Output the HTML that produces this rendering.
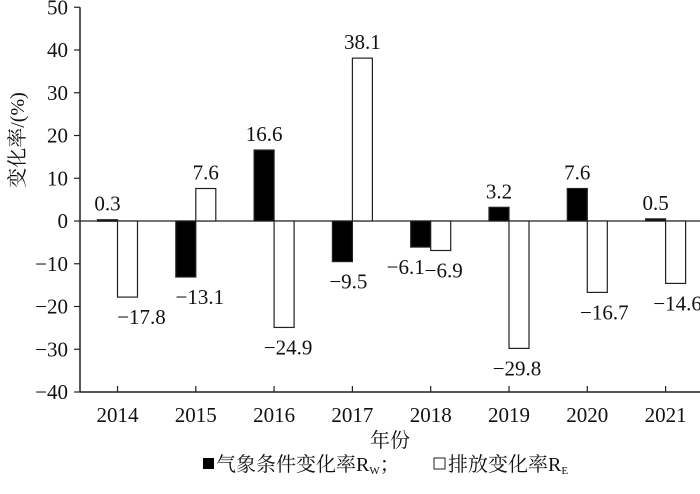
<!DOCTYPE html>
<html><head><meta charset="utf-8"><style>
body{margin:0;background:#fff}
svg text{font-family:"Liberation Serif","Noto Serif CJK SC",serif;fill:#111}
</style></head><body>
<svg width="700" height="489" xmlns="http://www.w3.org/2000/svg">
<g id="plot"></g>
<text x="390" y="447" text-anchor="middle" font-size="20">年份</text>
<text transform="translate(24,140) rotate(-90)" text-anchor="middle" font-size="20">变化率/(%)</text>
<g>
<rect x="203" y="458" width="11" height="11" fill="#000"/>
<text x="216" y="471" font-size="20">气象条件变化率R<tspan font-size="11" dy="3">W</tspan><tspan dy="-3">；</tspan></text>
<rect x="434" y="458" width="11" height="11" fill="#fff" stroke="#222"/>
<text x="448" y="471" font-size="20">排放变化率R<tspan font-size="11" dy="3">E</tspan></text>
</g>
</svg>
<script>
const years=["2014","2015","2016","2017","2018","2019","2020","2021"];
const rw=[0.3,-13.1,16.6,-9.5,-6.1,3.2,7.6,0.5];
const re=[-17.8,7.6,-24.9,38.1,-6.9,-29.8,-16.7,-14.6];
const yTicks=[50,40,30,20,10,0,-10,-20,-30,-40];
const NS="http://www.w3.org/2000/svg";
const g=document.getElementById('plot');
const y=v=>221-v*4.275;
const xc=i=>117.5+i*78.3;
function el(t,a,txt){const e=document.createElementNS(NS,t);for(const k in a)e.setAttribute(k,a[k]);if(txt!==undefined)e.textContent=txt;g.appendChild(e);return e;}
const ax=el('line',{x1:80,y1:y(50),x2:80,y2:y(-40),stroke:'#222','stroke-width':1.5});


yTicks.forEach(v=>{
 const t=el('line',{x1:74,y1:y(v),x2:80,y2:y(v),stroke:'#222','stroke-width':1.2});
 
 
 const l=el('text',{x:68,y:y(v)+7,'text-anchor':'end','font-size':21},v<0?'−'+(-v):String(v));
 
 
});
const xa=el('line',{x1:80,y1:y(-40),x2:700,y2:y(-40),stroke:'#222','stroke-width':1.5});


const zl=el('line',{x1:80,y1:y(0),x2:700,y2:y(0),stroke:'#222','stroke-width':1.2});


const dxW=[0,14,0,6,-15,0,0,0], dxE=[14,0,4,0,3,-2,7,2];
const fmt=v=>v<0?'−'+(-v).toFixed(1):v.toFixed(1);
years.forEach((yr,i)=>{
 const c=xc(i);
 const t=el('line',{x1:c,y1:y(-40),x2:c,y2:y(-40)-6,stroke:'#222','stroke-width':1.2});
 
 
 const l=el('text',{x:c,y:y(-40)+30,'text-anchor':'middle','font-size':21},yr);
 
 
 [[rw[i],c-20,'#000',dxW[i],'bar-rw'],[re[i],c,'#fff',dxE[i],'bar-re']].forEach(([v,x0,fill,dx,nm])=>{
  const b=el('rect',{x:x0,y:Math.min(y(v),y(0)),width:20,height:Math.max(Math.abs(y(v)-y(0)),1.5),fill:fill,stroke:'#222','stroke-width':1.2});
  
  
  const ty=v>=0?y(v)-9:y(v)+27;
  const vl=el('text',{x:x0+10+dx,y:ty,'text-anchor':'middle','font-size':21},fmt(v));
  
  
 });
});
</script>
</body></html>
